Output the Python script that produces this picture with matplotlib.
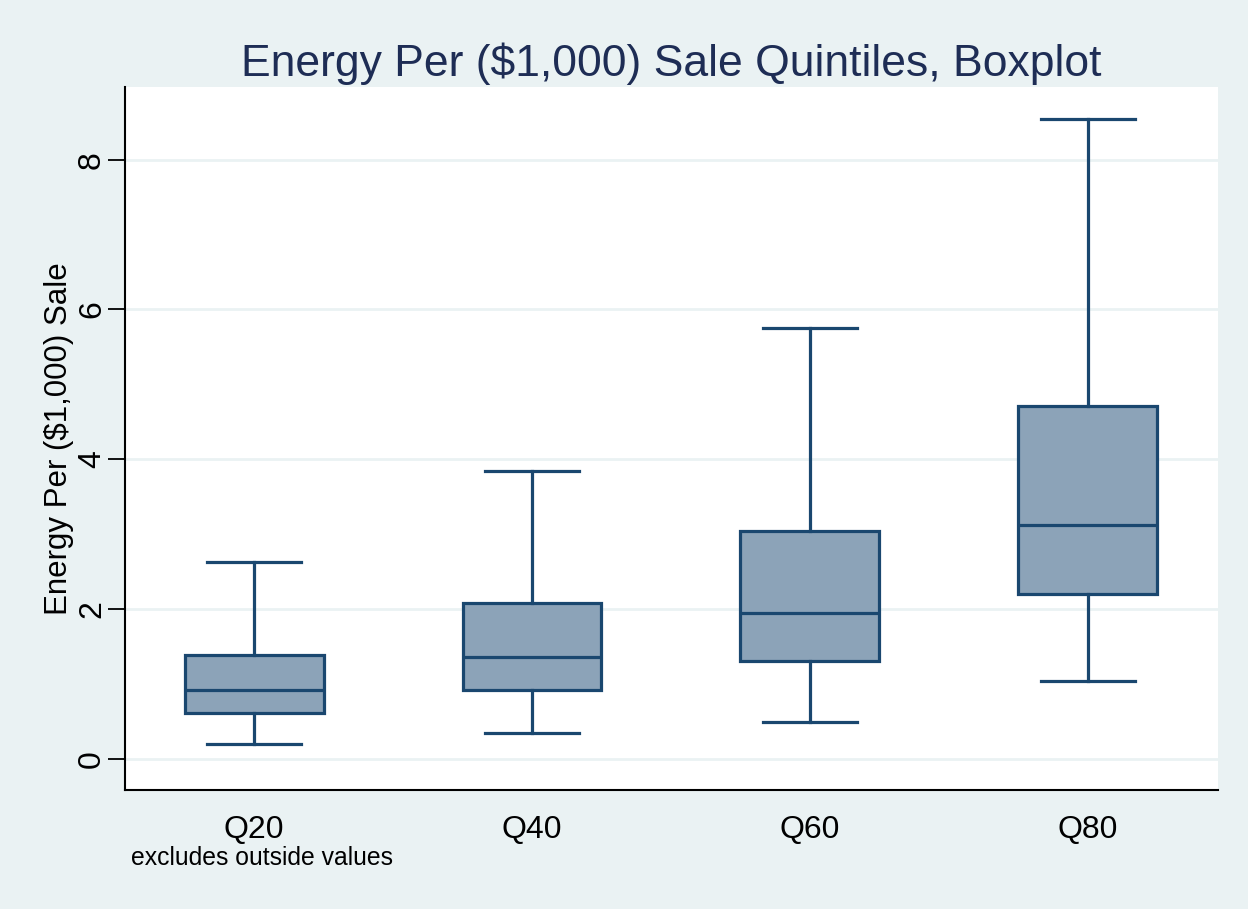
import matplotlib
matplotlib.use('Agg')
import matplotlib.pyplot as plt

# Quintile groups and box statistics
groups = ['Q20', 'Q40', 'Q60', 'Q80']
whisker_low = [0.20, 0.35, 0.49, 1.04]
q1 = [0.61, 0.92, 1.31, 2.20]
median = [0.92, 1.36, 1.95, 3.12]
q3 = [1.39, 2.08, 3.04, 4.71]
whisker_high = [2.63, 3.85, 5.75, 8.54]
yticks = [0, 2, 4, 6, 8]

plt.rcParams['font.family'] = ['Liberation Sans', 'DejaVu Sans']

bg = '#eaf2f3'
navy = '#1a476f'
fill = '#8ca3b8'

fig = plt.figure(figsize=(12.48, 9.09), dpi=100, facecolor=bg)
ax = fig.add_axes([0.1002, 0.1309, 0.8758, 0.7734])
ax.set_facecolor('white')

stats = []
for i, g in enumerate(groups):
    stats.append({'label': g, 'whislo': whisker_low[i], 'q1': q1[i], 'med': median[i],
                  'q3': q3[i], 'whishi': whisker_high[i], 'fliers': []})

pos = list(range(1, len(groups) + 1))
lw = 2.3
ax.bxp(stats, positions=pos, widths=0.5, patch_artist=True, showfliers=False,
       boxprops=dict(facecolor=fill, edgecolor=navy, linewidth=lw),
       medianprops=dict(color=navy, linewidth=lw),
       whiskerprops=dict(color=navy, linewidth=lw),
       capprops=dict(color=navy, linewidth=lw),
       capwidths=0.335)

ax.set_xlim(0.536, 4.468)
ax.set_ylim(-0.414, 8.97)
ax.set_yticks(yticks)
ax.set_yticklabels([str(v) for v in yticks], rotation=90, va='center')
ax.grid(axis='y', color=bg, linewidth=2)
ax.set_axisbelow(True)

for s in ['top', 'right']:
    ax.spines[s].set_visible(False)
for s in ['left', 'bottom']:
    ax.spines[s].set_color('black')
    ax.spines[s].set_linewidth(1.5)

ax.tick_params(axis='y', length=12, width=1.3, labelsize=23, pad=1)
ax.tick_params(axis='x', length=0, labelsize=23, pad=18)

ax.set_ylabel('Energy Per ($1,000) Sale', fontsize=22.5, labelpad=2)
ax.set_title('Energy Per ($1,000) Sale Quintiles, Boxplot', fontsize=32,
             color='#1e2d55', pad=8)

fig.text(0.105, 0.056, 'excludes outside values', fontsize=17.8, ha='left', va='center')

fig.savefig('out.png', dpi=100, facecolor=bg)
